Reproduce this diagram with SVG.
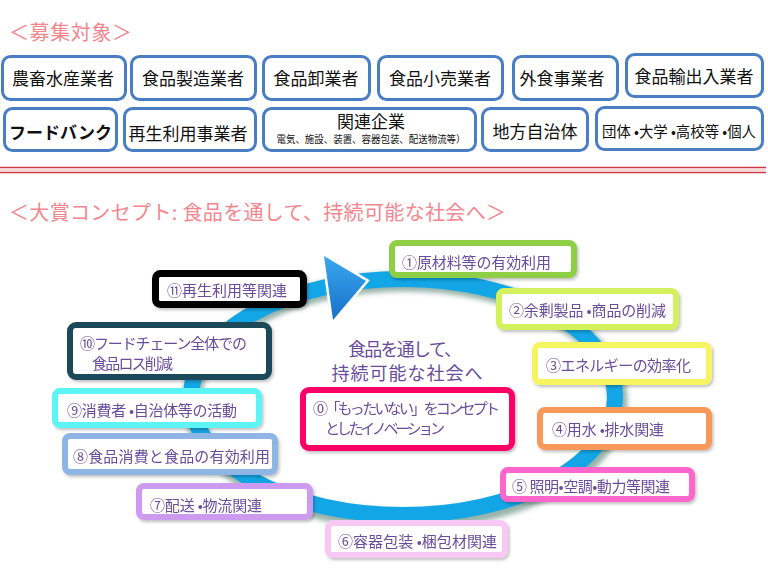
<svg xmlns="http://www.w3.org/2000/svg" width="768" height="576" viewBox="0 0 768 576">
<style>
.tb{fill:#fff;stroke:#4a7ec4;stroke-width:3}
.tt{font-family:"Noto Sans CJK JP","Noto Sans",sans-serif;font-size:17px;fill:#111;text-anchor:middle}
.ttl{font-family:"Noto Sans CJK JP","Noto Sans",sans-serif;font-size:20px;fill:#f4868e}
.cb{fill:#fff;stroke-width:6}
.ct{font-family:"Noto Sans CJK JP","Noto Sans",sans-serif;font-size:15px;fill:#6a4c9c}
.cc{font-family:"Noto Sans CJK JP","Noto Sans",sans-serif;font-size:18px;fill:#6a4c9c;text-anchor:middle}
</style>
<defs>
<filter id="blur" x="-10%" y="-10%" width="120%" height="120%"><feGaussianBlur stdDeviation="2.5"/></filter>
<filter id="sh" x="-10%" y="-20%" width="125%" height="150%"><feDropShadow dx="1.5" dy="2" stdDeviation="1.5" flood-color="#000" flood-opacity="0.25"/></filter>
<linearGradient id="tri" x1="0" y1="0" x2="0" y2="1"><stop offset="0" stop-color="#3aa8f0"/><stop offset="1" stop-color="#1670c8"/></linearGradient>
</defs>
<rect width="768" height="576" fill="#fff"/>

<text class="ttl" x="9" y="40" textLength="123">＜募集対象＞</text>

<g id="targets">
<g id="t1"><rect class="tb" x="2.5" y="56.5" width="123" height="43" rx="8"/><text class="tt" x="63" y="85">農畜水産業者</text></g>
<g id="t2"><rect class="tb" x="131.5" y="56.5" width="124" height="43" rx="8"/><text class="tt" x="193" y="85">食品製造業者</text></g>
<g id="t3"><rect class="tb" x="263.5" y="56.5" width="106" height="43" rx="8"/><text class="tt" x="316" y="85">食品卸業者</text></g>
<g id="t4"><rect class="tb" x="378.5" y="56.5" width="124" height="43" rx="8"/><text class="tt" x="440" y="85">食品小売業者</text></g>
<g id="t5"><rect class="tb" x="513.5" y="56.5" width="104" height="43" rx="8"/><text class="tt" x="562" y="85">外食事業者</text></g>
<g id="t6"><rect class="tb" x="626.5" y="54.5" width="136" height="42" rx="8"/><text class="tt" x="694" y="83">食品輸出入業者</text></g>
<g id="t7"><rect class="tb" x="4.5" y="108.5" width="112" height="42" rx="8"/><text class="tt" x="60.5" y="139" font-weight="bold">フードバンク</text></g>
<g id="t8"><rect class="tb" x="124.5" y="108.5" width="131" height="42" rx="8"/><text class="tt" x="188" y="140">再生利用事業者</text></g>
<g id="t9"><rect class="tb" x="263.5" y="108.5" width="212" height="42" rx="8"/><text class="tt" x="371" y="128">関連企業</text><text class="tt" x="371" y="143" style="font-size:10px" textLength="189" lengthAdjust="spacingAndGlyphs">電気、施設、装置、容器包装、配送物流等）</text></g>
<g id="t10"><rect class="tb" x="482.5" y="108.5" width="105" height="42" rx="8"/><text class="tt" x="535" y="138">地方自治体</text></g>
<g id="t11"><rect class="tb" x="596.5" y="107.5" width="166" height="42" rx="8"/><text class="tt" x="679" y="137" style="font-size:15px" textLength="154" lengthAdjust="spacingAndGlyphs">団体 •大学 •高校等 •個人</text></g>
</g>

<g id="divider">
<line x1="0" y1="167.5" x2="766" y2="167.5" stroke="#cc3a44" stroke-width="1.6"/>
<line x1="0" y1="170" x2="766" y2="170" stroke="#f2b4b4" stroke-width="1.2"/>
<line x1="0" y1="172.5" x2="766" y2="172.5" stroke="#cc3a44" stroke-width="1.6"/>
</g>

<text class="ttl" x="9" y="220" textLength="497">＜大賞コンセプト:  食品を通して、持続可能な社会へ＞</text>

<g id="connectors">
<ellipse cx="405" cy="401" rx="213" ry="119" fill="none" stroke="#3f7464" stroke-opacity="0.55" stroke-width="19" filter="url(#blur)"/>
<ellipse cx="403" cy="397" rx="212" ry="118" fill="none" stroke="#12a6e6" stroke-width="16"/>
<polygon points="324,256 333,320 366,281" fill="url(#tri)" stroke="#fff" stroke-width="5" stroke-linejoin="miter"/>
<polygon points="324,256 333,320 366,281" fill="url(#tri)"/>
</g>

<g id="n11" filter="url(#sh)"><rect class="cb" x="155.5" y="273.5" width="148" height="31" rx="5" stroke="#000" style="stroke-width:7"/><text class="ct" x="167" y="296" textLength="120">⑪再生利用等関連</text></g>
<g id="n1" filter="url(#sh)"><rect class="cb" x="392" y="243" width="182" height="32" rx="5" stroke="#8fcf45"/><text class="ct" x="402" y="268" textLength="149">①原材料等の有効利用</text></g>
<g id="n2" filter="url(#sh)"><rect class="cb" x="499" y="291" width="177" height="36" rx="5" stroke="#d2f15c"/><text class="ct" x="509" y="316" textLength="157">②余剰製品 •商品の削減</text></g>
<g id="n3" filter="url(#sh)"><rect class="cb" x="535" y="345" width="174" height="37" rx="5" stroke="#f5f562"/><text class="ct" x="546" y="371" textLength="145">③エネルギーの効率化</text></g>
<g id="n4" filter="url(#sh)"><rect class="cb" x="540" y="410" width="169" height="37" rx="5" stroke="#f8995a"/><text class="ct" x="552" y="435" textLength="112">④用水 •排水関連</text></g>
<g id="n5" filter="url(#sh)"><rect class="cb" x="503" y="470" width="189" height="29" rx="5" stroke="#ff66cc"/><text class="ct" x="512" y="492" textLength="158">⑤ 照明•空調•動力等関連</text></g>
<g id="n6" filter="url(#sh)"><rect class="cb" x="328" y="523" width="177" height="32" rx="5" stroke="#f8c8f5"/><text class="ct" x="338" y="547" textLength="159">⑥容器包装 •梱包材関連</text></g>
<g id="n7" filter="url(#sh)"><rect class="cb" x="139" y="486" width="171" height="31" rx="5" stroke="#cc9bf0"/><text class="ct" x="150" y="511" textLength="112">⑦配送 •物流関連</text></g>
<g id="n8" filter="url(#sh)"><rect class="cb" x="65" y="436" width="210" height="36" rx="5" stroke="#8fb5e5"/><text class="ct" x="73" y="462" textLength="197">⑧食品消費と食品の有効利用</text></g>
<g id="n9" filter="url(#sh)"><rect class="cb" x="55" y="391" width="204" height="34" rx="5" stroke="#5cf4f4"/><text class="ct" x="67" y="416" textLength="170">⑨消費者 •自治体等の活動</text></g>
<g id="n10" filter="url(#sh)"><rect class="cb" x="70" y="325" width="199" height="52" rx="6" stroke="#1f4a5a"/><text class="ct" x="80" y="349" textLength="167">⑩フードチェーン全体での</text><text class="ct" x="92" y="369" textLength="81">食品ロス削減</text></g>
<g id="center"><text class="cc" x="405" y="356" textLength="114">食品を通して、</text><text class="cc" x="407" y="380" textLength="151">持続可能な社会へ</text></g>
<g id="n0" filter="url(#sh)"><rect class="cb" x="303" y="390" width="209" height="58" rx="6" stroke="#ff0066"/><text class="ct" x="313" y="414" textLength="187">⓪「もったいない」をコンセプト</text><text class="ct" x="325" y="434" textLength="120">としたイノベーション</text></g>
</svg>
